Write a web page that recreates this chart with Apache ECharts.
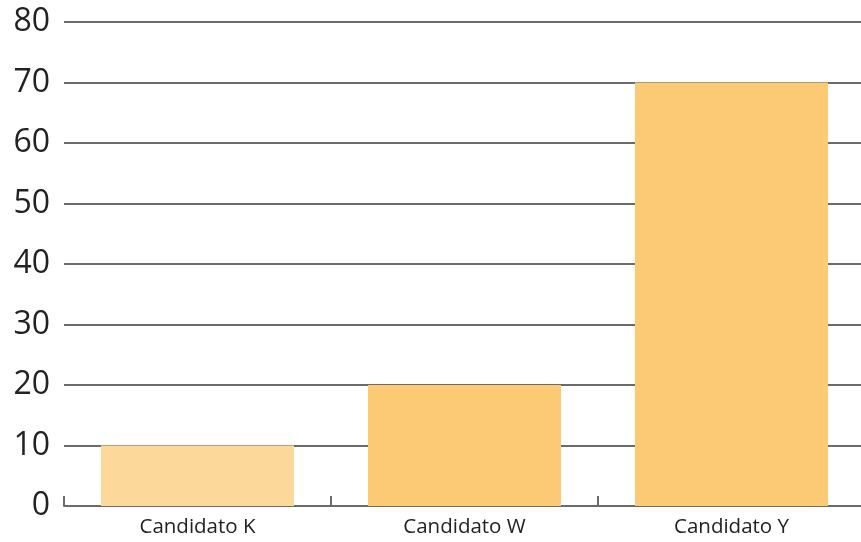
<!DOCTYPE html>
<html><head><meta charset="utf-8">
<script src="https://cdn.jsdelivr.net/npm/echarts@6/dist/echarts.min.js"></script>
<style>html,body{margin:0;padding:0;background:#fff;overflow:hidden}#c{width:865px;height:542px}</style>
</head><body><div id="c"></div>
<script>
const categories = ["Candidato K", "Candidato W", "Candidato Y"];
const values = [10, 20, 70];
const barColors = ["#fcd99b", "#fcc975", "#fcc975"];
const yTicks = [0, 10, 20, 30, 40, 50, 60, 70, 80];

const chart = echarts.init(document.getElementById('c'), null, {renderer: 'canvas'});
chart.setOption({
  animation: false,
  grid: {left: 64, top: 22, right: 0, height: 484, containLabel: false},
  xAxis: {
    type: 'category',
    data: categories,
    axisLine: {show: true, lineStyle: {color: '#6b6b6b', width: 2}},
    axisTick: {show: true, inside: true, length: 10, lineStyle: {color: '#6b6b6b', width: 2}},
    axisLabel: {color: '#222', fontSize: 20.5, fontFamily: 'Open Sans', margin: 11},
    splitLine: {show: false}
  },
  yAxis: {
    type: 'value',
    min: yTicks[0], max: yTicks[yTicks.length - 1], interval: 10,
    axisLine: {show: false},
    axisTick: {show: false},
    axisLabel: {color: '#222', fontSize: 32, fontFamily: 'Open Sans', margin: 14},
    splitLine: {lineStyle: {color: '#6b6b6b', width: 2}}
  },
  series: [{
    type: 'bar',
    data: values.map((v, i) => ({value: v, itemStyle: {color: barColors[i]}})),
    barWidth: 193,
    z: 3
  }]
});
</script></body></html>
